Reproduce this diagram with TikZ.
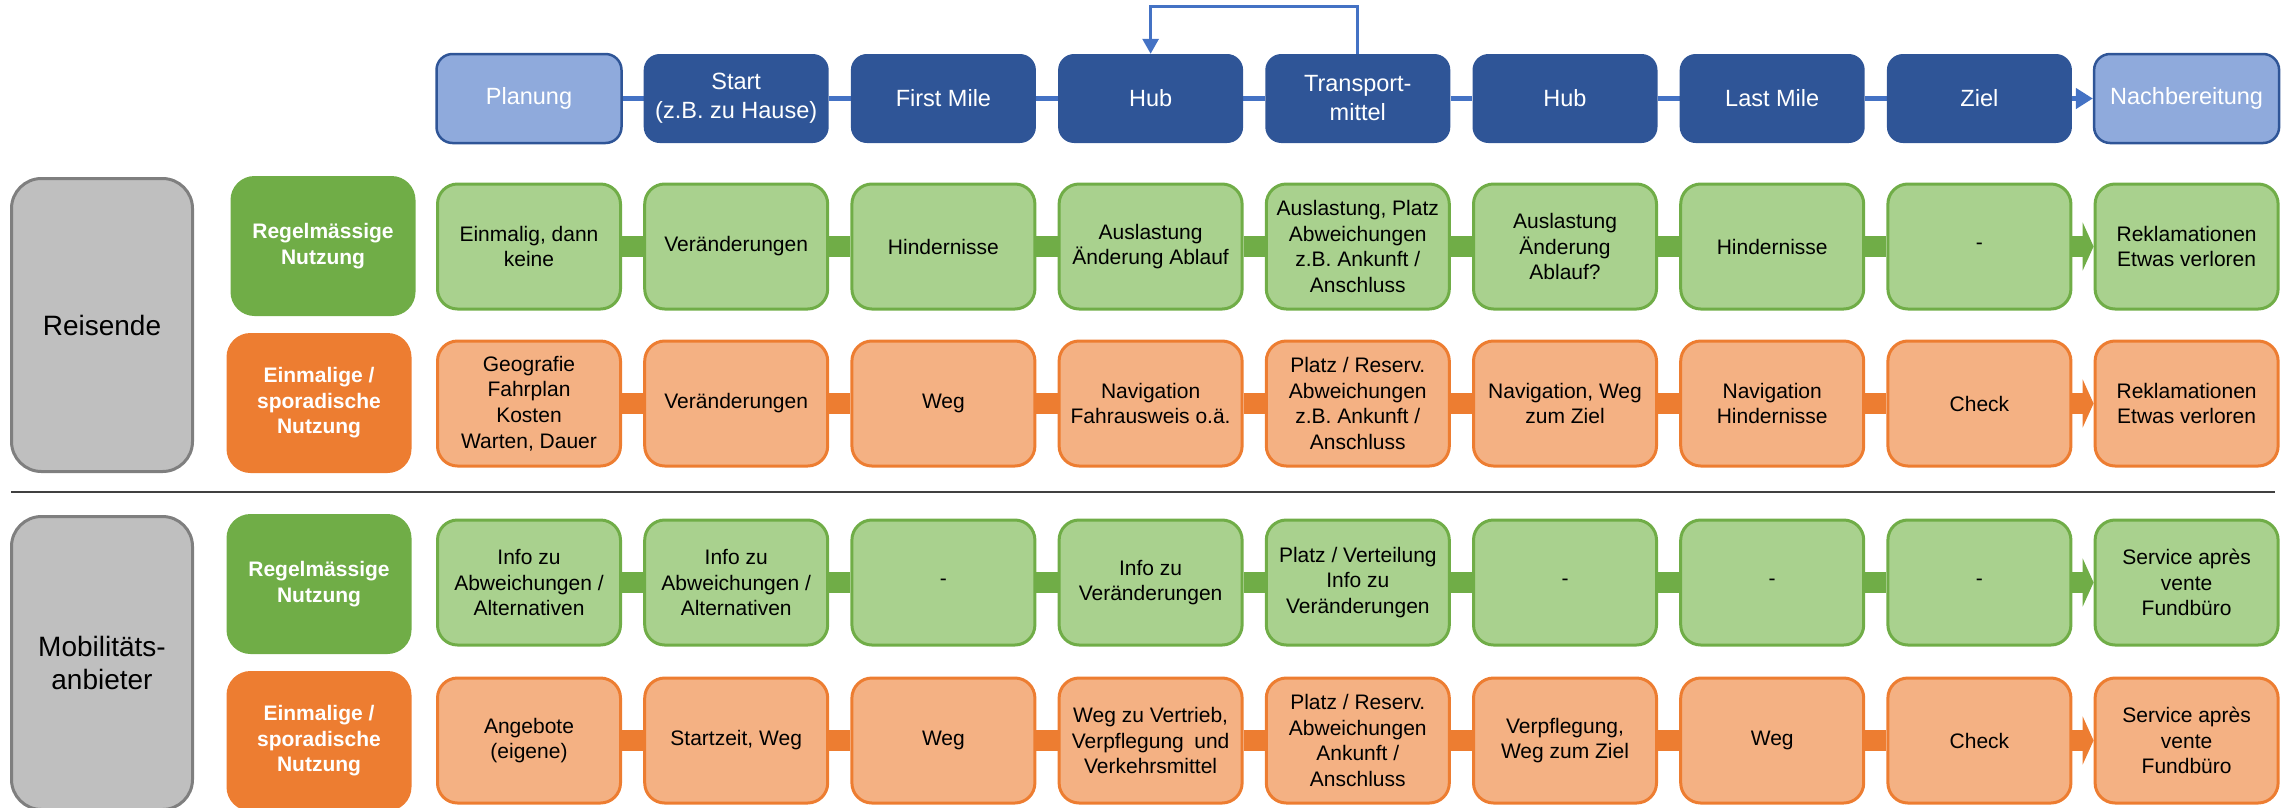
\documentclass[tikz,border=0pt]{standalone}
\usepackage{fontspec}
\setmainfont{Liberation Sans}
\usetikzlibrary{arrows.meta,backgrounds}
\definecolor{topdark}{HTML}{2F5597}
\definecolor{toplight}{HTML}{8FAADC}
\definecolor{linkblue}{HTML}{4472C4}
\definecolor{grn}{HTML}{70AD47}
\definecolor{grnlight}{HTML}{A9D18E}
\definecolor{org}{HTML}{ED7D31}
\definecolor{orglight}{HTML}{F4B183}
\definecolor{grayfill}{HTML}{BFBFBF}
\definecolor{grayline}{HTML}{7F7F7F}
\definecolor{sepline}{HTML}{404040}

\begin{document}
\begin{tikzpicture}[x=1pt,y=-1pt,
  phase/.style={rectangle, rounded corners=16pt, minimum width=185pt, minimum height=89pt,
    fill=topdark, text=white, align=center, inner sep=2pt,
    font=\fontsize{23.5}{29}\selectfont},
  phaseend/.style={phase, fill=toplight, draw=topdark, line width=2.5pt},
  cell/.style={rectangle, rounded corners=20pt, minimum width=183pt, minimum height=125pt,
    line width=3pt, align=center, inner sep=2pt, text=black,
    font=\fontsize{21}{25.6}\selectfont},
  cellgrn/.style={cell, fill=grnlight, draw=grn},
  cellorg/.style={cell, fill=orglight, draw=org},
  cat/.style={rectangle, rounded corners=24pt, minimum width=185pt, minimum height=140pt,
    text=white, align=center, inner sep=2pt, font=\bfseries\fontsize{21}{25.5}\selectfont},
  catgrn/.style={cat, fill=grn},
  catorg/.style={cat, fill=org},
  actor/.style={rectangle, rounded corners=30pt, minimum width=181pt, minimum height=293pt,
    fill=grayfill, draw=grayline, line width=3pt, align=center, inner sep=2pt,
    font=\fontsize{28}{33}\selectfont},
  bandgrn/.style={draw=grn, line width=21pt},
  bandorg/.style={draw=org, line width=21pt},
  bandtop/.style={draw=linkblue, line width=5.5pt},
  loopline/.style={draw=linkblue, line width=3pt},
]
\useasboundingbox (0,0) rectangle (2285,807);
\clip (0,0) rectangle (2285,807);

% phases of the journey
\node[phaseend] (p1) at (529,98.5) {Planung};
\node[phase] (p2) at (736.2,98.5) {Start\\(z.B. zu Hause)};
\node[phase] (p3) at (943.4,98.5) {First Mile};
\node[phase] (p4) at (1150.6,98.5) {Hub};
\node[phase] (p5) at (1357.8,98.5) {Transport-\\mittel};
\node[phase] (p6) at (1565,98.5) {Hub};
\node[phase] (p7) at (1772.2,98.5) {Last Mile};
\node[phase] (p8) at (1979.4,98.5) {Ziel};
\node[phaseend] (p9) at (2186.6,98.5) {Nachbereitung};

% actors
\node[actor] (g1) at (102,325) {Reisende};
\node[actor] (g2) at (102,663) {Mobilitäts-\\anbieter};

% usage categories
\node[catgrn] (k1) at (323,246) {Regelmässige\\Nutzung};
\node[catorg] (k2) at (319,403) {Einmalige /\\sporadische\\Nutzung};
\node[catgrn] (k3) at (319,584) {Regelmässige\\Nutzung};
\node[catorg] (k4) at (319,741) {Einmalige /\\sporadische\\Nutzung};

% travellers, regular use
\node[cellgrn] (a1) at (529,246.5) {Einmalig, dann\\keine};
\node[cellgrn] (a2) at (736.2,246.5) {Veränderungen};
\node[cellgrn] (a3) at (943.4,246.5) {Hindernisse};
\node[cellgrn] (a4) at (1150.6,246.5) {Auslastung\\Änderung Ablauf};
\node[cellgrn] (a5) at (1357.8,246.5) {Auslastung, Platz\\Abweichungen\\z.B. Ankunft /\\Anschluss};
\node[cellgrn] (a6) at (1565,246.5) {Auslastung\\Änderung\\Ablauf?};
\node[cellgrn] (a7) at (1772.2,246.5) {Hindernisse};
\node[cellgrn] (a8) at (1979.4,246.5) {-};
\node[cellgrn] (a9) at (2186.6,246.5) {Reklamationen\\Etwas verloren};

% travellers, occasional use
\node[cellorg] (b1) at (529,403.5) {Geografie\\Fahrplan\\Kosten\\Warten, Dauer};
\node[cellorg] (b2) at (736.2,403.5) {Veränderungen};
\node[cellorg] (b3) at (943.4,403.5) {Weg};
\node[cellorg] (b4) at (1150.6,403.5) {Navigation\\Fahrausweis o.ä.};
\node[cellorg] (b5) at (1357.8,403.5) {Platz / Reserv.\\Abweichungen\\z.B. Ankunft /\\Anschluss};
\node[cellorg] (b6) at (1565,403.5) {Navigation, Weg\\zum Ziel};
\node[cellorg] (b7) at (1772.2,403.5) {Navigation\\Hindernisse};
\node[cellorg] (b8) at (1979.4,403.5) {Check};
\node[cellorg] (b9) at (2186.6,403.5) {Reklamationen\\Etwas verloren};

% providers, regular use
\node[cellgrn] (c1) at (529,582.5) {Info zu\\Abweichungen /\\Alternativen};
\node[cellgrn] (c2) at (736.2,582.5) {Info zu\\Abweichungen /\\Alternativen};
\node[cellgrn] (c3) at (943.4,582.5) {-};
\node[cellgrn] (c4) at (1150.6,582.5) {Info zu\\Veränderungen};
\node[cellgrn] (c5) at (1357.8,582.5) {Platz / Verteilung\\Info zu\\Veränderungen};
\node[cellgrn] (c6) at (1565,582.5) {-};
\node[cellgrn] (c7) at (1772.2,582.5) {-};
\node[cellgrn] (c8) at (1979.4,582.5) {-};
\node[cellgrn] (c9) at (2186.6,582.5) {Service après\\vente\\Fundbüro};

% providers, occasional use
\node[cellorg] (d1) at (529,740.5) {Angebote\\(eigene)};
\node[cellorg] (d2) at (736.2,740.5) {Startzeit, Weg};
\node[cellorg] (d3) at (943.4,740.5) {Weg};
\node[cellorg] (d4) at (1150.6,740.5) {Weg zu Vertrieb,\\Verpflegung\enspace und\\Verkehrsmittel};
\node[cellorg] (d5) at (1357.8,740.5) {Platz / Reserv.\\Abweichungen\\Ankunft /\\Anschluss};
\node[cellorg] (d6) at (1565,740.5) {Verpflegung,\\Weg zum Ziel};
\node[cellorg] (d7) at (1772.2,740.5) {Weg};
\node[cellorg] (d8) at (1979.4,740.5) {Check};
\node[cellorg] (d9) at (2186.6,740.5) {Service après\\vente\\Fundbüro};

% divider between the two actors
\coordinate (sepL) at (11,492);
\coordinate (sepR) at (2275,492);
\draw[sepline, line width=2pt] (sepL) -- (sepR);

% connectors behind the boxes
\begin{scope}[on background layer]
  \foreach \i [evaluate=\i as \j using int(\i+1)] in {1,...,7} {
    \draw[bandtop] (p\i.east) -- (p\j.west);
    \draw[bandgrn] (a\i.east) -- (a\j.west);
    \draw[bandorg] (b\i.east) -- (b\j.west);
    \draw[bandgrn] (c\i.east) -- (c\j.west);
    \draw[bandorg] (d\i.east) -- (d\j.west);
  }
  \draw[bandtop, -{Triangle[length=17pt,width=20pt]}] (p8.east) -- (p9.west);
  \draw[bandgrn, -{Triangle[length=11pt,width=48pt]}] (a8.east) -- (a9.west);
  \draw[bandorg, -{Triangle[length=11pt,width=48pt]}] (b8.east) -- (b9.west);
  \draw[bandgrn, -{Triangle[length=11pt,width=48pt]}] (c8.east) -- (c9.west);
  \draw[bandorg, -{Triangle[length=11pt,width=48pt]}] (d8.east) -- (d9.west);
\end{scope}

% return loop from the vehicle back to the hub
\draw[loopline, -{Triangle[length=15pt,width=16pt]}] (p5.north) -- ++(0,-47) -| (p4.north);
\end{tikzpicture}
\end{document}
